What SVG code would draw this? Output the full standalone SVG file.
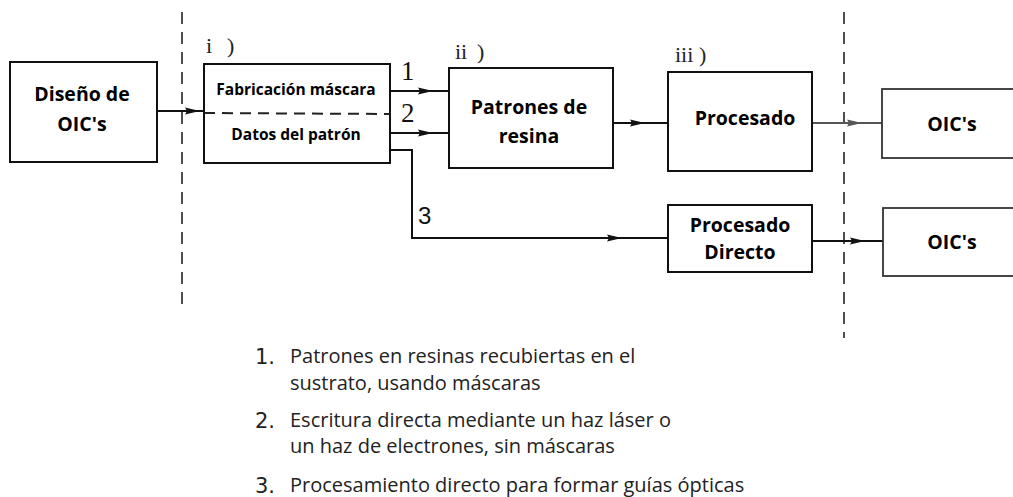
<svg xmlns="http://www.w3.org/2000/svg" width="1013" height="497" viewBox="0 0 1013 497">
<style>
.box{fill:#fff;stroke:#111;stroke-width:2}
.box2{fill:#fff;stroke:#333;stroke-width:1.8}
.lbl{font-family:"Open Sans","Liberation Sans",sans-serif;font-weight:bold;fill:#000;text-anchor:middle;font-size:19.5px}
.sm{font-size:15.5px}
.step{font-family:"Liberation Serif",serif;font-size:22px;fill:#222}
.num{font-family:"Liberation Serif",serif;font-size:27px;fill:#111}
.ln{fill:none;stroke:#111;stroke-width:2}
.dash{fill:none;stroke:#222;stroke-width:1.6;stroke-dasharray:12,8}
.leg{font-family:"Open Sans","Liberation Sans",sans-serif;font-size:20px;fill:#222}
.legn{font-family:"DejaVu Sans","Liberation Sans",sans-serif;font-size:21px;fill:#222}
</style>
<defs>
<marker id="ah" viewBox="0 0 15 8" refX="15" refY="4" markerWidth="15" markerHeight="8" markerUnits="userSpaceOnUse" orient="auto">
<path d="M0,0.5 L15,4 L0,7.5 L2,4 z" fill="#111"/>
</marker>
<marker id="ahg" viewBox="0 0 15 8" refX="15" refY="4" markerWidth="15" markerHeight="8" markerUnits="userSpaceOnUse" orient="auto">
<path d="M0,0.5 L15,4 L0,7.5 L2,4 z" fill="#555"/>
</marker>
</defs>

<g id="separators">
<line class="dash" x1="182" y1="12" x2="182" y2="308"/>
<line class="dash" x1="844" y1="12" x2="844" y2="338"/>
</g>

<g id="connectors">
<path class="ln" d="M157,111 L200,111 L204,111" marker-mid="url(#ah)"/>
<path class="ln" d="M390,91 L433,91 L449,91" marker-mid="url(#ah)"/>
<path class="ln" d="M390,133 L433,133 L449,133" marker-mid="url(#ah)"/>
<path class="ln" d="M390,150 L412,150 L412,238 L500,238"/>
<path class="ln" d="M499,238 L622,238 L668,238" marker-mid="url(#ah)"/>
<path class="ln" d="M613,123 L645,123 L668,123" marker-mid="url(#ah)"/>
<path class="ln" d="M812,123 L862,123 L882,123" marker-mid="url(#ahg)" style="stroke:#555"/>
<path class="ln" d="M812,241 L865,241 L883,241" marker-mid="url(#ah)"/>
<text class="num" x="401" y="80">1</text>
<text class="num" x="401" y="122">2</text>
<text x="418" y="224" style="font-family:'Liberation Sans',sans-serif;font-size:24px;fill:#111">3</text>
</g>

<g id="node-diseno">
<rect class="box" x="10" y="62" width="147" height="100"/>
<text class="lbl" x="82" y="101">Diseño de</text>
<text class="lbl" x="82" y="131">OIC's</text>
</g>

<g id="node-i">
<text class="step" y="53"><tspan x="206">i</tspan><tspan x="227">)</tspan></text>
<rect class="box" x="204" y="64" width="186" height="99"/>
<line class="dash" x1="204" y1="113" x2="390" y2="114" style="stroke-width:2;stroke-dasharray:11,7"/>
<text class="lbl sm" x="296" y="95">Fabricación máscara</text>
<text class="lbl sm" x="296" y="140">Datos del patrón</text>
</g>

<g id="node-ii">
<text class="step" y="59"><tspan x="455">ii</tspan><tspan x="477">)</tspan></text>
<rect class="box" x="449" y="68" width="164" height="100"/>
<text class="lbl" x="529" y="114">Patrones de</text>
<text class="lbl" x="529" y="143">resina</text>
</g>

<g id="node-iii">
<text class="step" y="62"><tspan x="675">iii</tspan><tspan x="699">)</tspan></text>
<rect class="box" x="668" y="72" width="144" height="99"/>
<text class="lbl" x="745" y="125">Procesado</text>
</g>

<g id="node-oic1">
<rect class="box2" x="882" y="89" width="140" height="69"/>
<text class="lbl" x="952" y="131">OIC's</text>
</g>

<g id="node-directo">
<rect class="box" x="668" y="205" width="144" height="67"/>
<text class="lbl" x="740" y="232">Procesado</text>
<text class="lbl" x="740" y="259">Directo</text>
</g>

<g id="node-oic2">
<rect class="box2" x="883" y="208" width="140" height="68"/>
<text class="lbl" x="952" y="249">OIC's</text>
</g>

<g id="legend">
<text class="legn" x="255" y="364">1.</text>
<text class="leg" x="290" y="363">Patrones en resinas recubiertas en el</text>
<text class="leg" x="290" y="390">sustrato, usando máscaras</text>
<text class="legn" x="255" y="428">2.</text>
<text class="leg" x="290" y="427">Escritura directa mediante un haz láser o</text>
<text class="leg" x="290" y="453">un haz de electrones, sin máscaras</text>
<text class="legn" x="255" y="493">3.</text>
<text class="leg" x="290" y="492">Procesamiento directo para formar guías ópticas</text>
</g>
</svg>
